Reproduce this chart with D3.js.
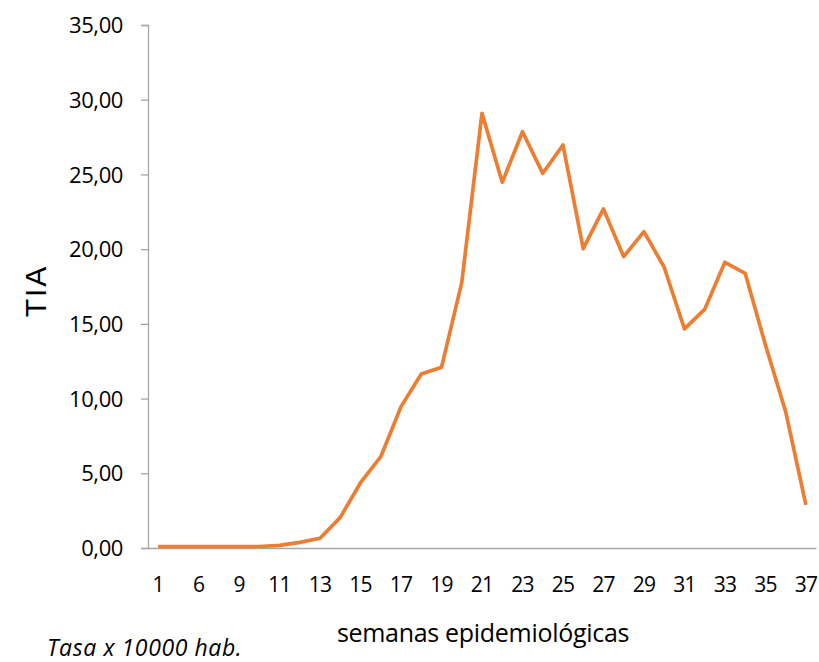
<!DOCTYPE html>
<html>
<head>
<meta charset="utf-8">
<script src="https://cdn.jsdelivr.net/npm/d3@7"></script>
<style>
  body { margin: 0; background: #fff; }
  svg { display: block; }
  .tick text { font-family: "Open Sans", sans-serif; fill: #000; }
</style>
</head>
<body>
<svg width="819" height="662"></svg>
<script>
// semanas epidemiologicas (Excel only shows every other label)
var weeks = ["1", "5", "6", "8", "9", "10", "11", "12", "13", "14", "15", "16", "17", "18", "19", "20",
  "21", "22", "23", "24", "25", "26", "27", "28", "29", "30", "31", "32", "33", "34", "35", "36", "37"];
var tia = [0.1, 0.1, 0.1, 0.1, 0.1, 0.1, 0.18, 0.38, 0.65, 2.05, 4.37, 6.11, 9.46, 11.64, 12.09, 17.76,
  29.09, 24.47, 27.86, 25.07, 26.97, 20.03, 22.69, 19.5, 21.17, 18.79, 14.66, 15.97, 19.12, 18.38, 13.6, 9.12, 2.88];
var yTicks = [0, 5, 10, 15, 20, 25, 30, 35];

var data = weeks.map(function(w, i) { return { week: w, v: tia[i] }; });

var svg = d3.select("svg");
var margin = { top: 25, left: 148, right: 3, bottom: 114 };
var width = 819 - margin.left - margin.right,
    height = 662 - margin.top - margin.bottom;

var g = svg.append("g")
  .attr("transform", "translate(" + margin.left + "," + margin.top + ")");

var x = d3.scaleBand().domain(weeks).range([0, 668]);
var y = d3.scaleLinear().domain([0, 35]).range([height, 0]);

var fmt = function(d) { return d3.format(".2f")(d).replace(".", ","); };

// y axis
var yAxis = g.append("g")
  .call(d3.axisLeft(y).tickValues(yTicks).tickFormat(fmt).tickSize(7).tickPadding(18));
yAxis.selectAll("line, path").attr("stroke", "#a6a6a6").attr("stroke-width", 1.3);
yAxis.selectAll("text").style("font-size", "22px").style("letter-spacing", "-0.4px").attr("dy", "0.35em");

// x axis, labels every second category, no tick marks
var xAxis = g.append("g")
  .attr("transform", "translate(0," + height + ")")
  .call(d3.axisBottom(x)
    .tickValues(weeks.filter(function(d, i) { return i % 2 === 0; }))
    .tickSize(0).tickPadding(26).tickSizeOuter(0));
xAxis.select("path").attr("stroke", "#a6a6a6").attr("stroke-width", 1.3);
xAxis.selectAll("text").style("font-size", "21px").style("letter-spacing", "-0.8px").attr("dy", "0.35em").attr("y", 37);

// line
var line = d3.line()
  .x(function(d) { return x(d.week) + x.bandwidth() / 2; })
  .y(function(d) { return y(d.v); });

g.append("path")
  .datum(data)
  .attr("fill", "none")
  .attr("stroke", "#ED7D31")
  .attr("stroke-width", 3.7)
  .attr("stroke-linejoin", "round")
  .attr("d", line);

// titles
svg.append("text")
  .attr("transform", "translate(46,291) rotate(-90)")
  .attr("text-anchor", "middle")
  .style("font-family", "'Liberation Sans', Arial, sans-serif")
  .style("font-size", "30px")
  .style("letter-spacing", "2px")
  .text("TIA");

svg.append("text")
  .attr("x", 483).attr("y", 642)
  .attr("text-anchor", "middle")
  .style("font-family", "'Open Sans', sans-serif")
  .style("font-size", "25px")
  .style("letter-spacing", "-0.3px")
  .text("semanas epidemiológicas");

svg.append("text")
  .attr("x", 47).attr("y", 656)
  .style("font-family", "'Open Sans', sans-serif")
  .style("font-size", "23px")
  .style("font-style", "italic")
  .style("letter-spacing", "0.6px")
  .text("Tasa x 10000 hab.");
</script>
</body>
</html>
